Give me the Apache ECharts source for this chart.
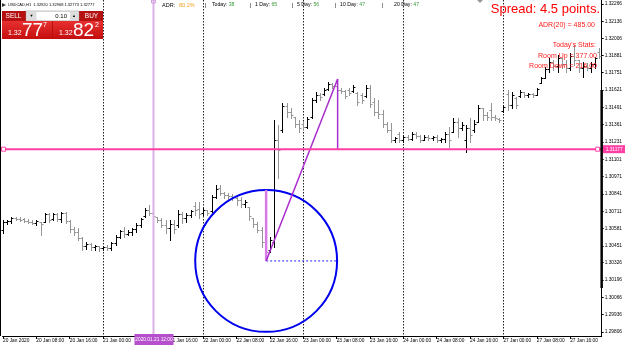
<!DOCTYPE html>
<html><head><meta charset="utf-8">
<script src="https://cdn.jsdelivr.net/npm/echarts@6/dist/echarts.min.js"></script>
<style>html,body{margin:0;padding:0;background:#fff}#c{width:625px;height:348px}</style>
</head><body><div id="c"></div>
<script>
// USDCAD H1 bars, 20 Jan 2020 00:00 .. 27 Jan 2020 23:00 (index = bar number)
const opens = [
1.30571,1.30631,1.30639,1.30661,1.30654,1.30654,1.30639,1.30631,1.30624,1.30631,
1.30631,1.30691,1.30654,1.30691,1.30654,1.30699,1.30639,1.30579,1.30556,1.30511,
1.30451,1.30466,1.30444,1.30451,1.30436,1.30444,1.30436,1.30474,1.30519,1.30564,
1.30541,1.30556,1.30579,1.30609,1.30676,1.30721,1.30699,1.30669,1.30646,1.30609,
1.30586,1.30616,1.30609,1.30691,1.30661,1.30684,1.30751,1.30729,1.30699,1.30721,
1.30714,1.30819,1.30886,1.30849,1.30834,1.30826,1.30811,1.30796,1.30766,1.30744,
1.30661,1.30616,1.30571,1.30481,1.30421,1.30481,1.31246,1.31321,1.31501,1.31456,
1.31419,1.31366,1.31366,1.31344,1.31419,1.31546,1.31584,1.31591,1.31629,1.31666,
1.31651,1.31621,1.31614,1.31621,1.31614,1.31599,1.31584,1.31576,1.31636,1.31531,
1.31456,1.31441,1.31366,1.31321,1.31246,1.31291,1.31246,1.31269,1.31254,1.31291,
1.31276,1.31246,1.31269,1.31261,1.31269,1.31246,1.31254,1.31291,1.31306,1.31381,
1.31336,1.31246,1.31336,1.31321,1.31381,1.31486,1.31434,1.31471,1.31419,1.31404,
1.31464,1.31591,1.31509,1.31561,1.31576,1.31606,1.31584,1.31591,1.31584,1.31674,
1.31711,1.31779,1.31831,1.31801,1.31861,1.31816,1.31786,1.31876,1.31846,1.31786,
1.31801,1.31786,1.31816,1.31906];
const highs = [
1.30646,1.30646,1.30669,1.30669,1.30669,1.30661,1.30654,1.30646,1.30646,1.30631,
1.30699,1.30699,1.30699,1.30699,1.30706,1.30706,1.30646,1.30594,1.30586,1.30519,
1.30481,1.30474,1.30459,1.30451,1.30451,1.30459,1.30481,1.30534,1.30571,1.30594,
1.30571,1.30586,1.30624,1.30661,1.30736,1.30759,1.30706,1.30669,1.30661,1.30646,
1.30646,1.30646,1.30721,1.30706,1.30699,1.30721,1.30781,1.30781,1.30736,1.30721,
1.30834,1.30909,1.30909,1.30856,1.30849,1.30841,1.30819,1.30819,1.30796,1.30744,
1.30661,1.30631,1.30594,1.30496,1.30519,1.31396,1.31359,1.31524,1.31524,1.31486,
1.31419,1.31396,1.31381,1.31419,1.31561,1.31606,1.31599,1.31636,1.31681,1.31674,
1.31704,1.31636,1.31621,1.31636,1.31659,1.31606,1.31599,1.31659,1.31659,1.31561,
1.31546,1.31471,1.31381,1.31374,1.31269,1.31306,1.31284,1.31284,1.31306,1.31306,
1.31284,1.31284,1.31284,1.31276,1.31284,1.31261,1.31306,1.31344,1.31411,1.31411,
1.31381,1.31359,1.31411,1.31396,1.31509,1.31486,1.31456,1.31524,1.31434,1.31411,
1.31509,1.31621,1.31606,1.31569,1.31621,1.31606,1.31599,1.31599,1.31636,1.31719,
1.31794,1.31861,1.31846,1.31884,1.31861,1.31846,1.31899,1.31959,1.31846,1.31831,
1.31824,1.31831,1.31869,1.31936];
const lows = [
1.30549,1.30616,1.30624,1.30646,1.30639,1.30631,1.30624,1.30616,1.30609,1.30534,
1.30631,1.30631,1.30646,1.30639,1.30631,1.30624,1.30556,1.30534,1.30496,1.30421,
1.30429,1.30421,1.30421,1.30414,1.30421,1.30421,1.30421,1.30459,1.30511,1.30519,
1.30534,1.30534,1.30556,1.30594,1.30669,1.30684,1.30669,1.30631,1.30594,1.30549,
1.30496,1.30549,1.30594,1.30624,1.30631,1.30669,1.30684,1.30661,1.30684,1.30684,
1.30706,1.30811,1.30834,1.30811,1.30796,1.30796,1.30759,1.30744,1.30744,1.30646,
1.30594,1.30556,1.30444,1.30346,1.30406,1.30444,1.30961,1.31306,1.31419,1.31411,
1.31344,1.31306,1.31321,1.31336,1.31411,1.31531,1.31546,1.31584,1.31621,1.31636,
1.31606,1.31599,1.31561,1.31584,1.31606,1.31509,1.31524,1.31569,1.31494,1.31434,
1.31411,1.31344,1.31306,1.31231,1.31231,1.31231,1.31231,1.31246,1.31246,1.31261,
1.31231,1.31246,1.31246,1.31246,1.31231,1.31231,1.31231,1.31194,1.31306,1.31269,
1.31321,1.31156,1.31231,1.31306,1.31381,1.31396,1.31396,1.31396,1.31396,1.31381,
1.31456,1.31471,1.31486,1.31486,1.31569,1.31569,1.31569,1.31569,1.31584,1.31674,
1.31711,1.31756,1.31771,1.31756,1.31786,1.31756,1.31771,1.31809,1.31756,1.31719,
1.31771,1.31756,1.31786,1.31861];
const closes = [
1.30631,1.30639,1.30661,1.30654,1.30646,1.30639,1.30631,1.30624,1.30639,1.30616,
1.30691,1.30646,1.30691,1.30654,1.30699,1.30639,1.30579,1.30556,1.30511,1.30451,
1.30466,1.30444,1.30451,1.30436,1.30444,1.30436,1.30474,1.30519,1.30564,1.30541,
1.30556,1.30579,1.30609,1.30654,1.30721,1.30699,1.30676,1.30646,1.30609,1.30586,
1.30616,1.30579,1.30691,1.30661,1.30684,1.30714,1.30721,1.30691,1.30721,1.30699,
1.30819,1.30879,1.30849,1.30834,1.30826,1.30819,1.30796,1.30766,1.30781,1.30676,
1.30616,1.30571,1.30481,1.30406,1.30496,1.31246,1.31171,1.31501,1.31456,1.31434,
1.31366,1.31336,1.31344,1.31404,1.31546,1.31584,1.31569,1.31621,1.31666,1.31651,
1.31621,1.31614,1.31576,1.31599,1.31644,1.31531,1.31546,1.31636,1.31516,1.31456,
1.31441,1.31366,1.31321,1.31246,1.31261,1.31246,1.31269,1.31254,1.31291,1.31276,
1.31246,1.31269,1.31261,1.31269,1.31246,1.31254,1.31291,1.31246,1.31381,1.31336,
1.31359,1.31336,1.31284,1.31366,1.31486,1.31434,1.31419,1.31419,1.31411,1.31396,
1.31494,1.31509,1.31584,1.31509,1.31606,1.31584,1.31591,1.31584,1.31629,1.31711,
1.31779,1.31831,1.31801,1.31861,1.31816,1.31786,1.31876,1.31846,1.31786,1.31801,
1.31786,1.31816,1.31861,1.31876];

const timeTickIndex = [0,8,16,24,32,40,48,56,64,72,80,88,96,104,112,120,128,136];
const timeTickLabels = ['20 Jan 2020','20 Jan 08:00','20 Jan 16:00','21 Jan 00:00','21 Jan 08:00','21 Jan 16:00',
  '22 Jan 00:00','22 Jan 08:00','22 Jan 16:00','23 Jan 00:00','23 Jan 08:00','23 Jan 16:00',
  '24 Jan 00:00','24 Jan 08:00','24 Jan 16:00','27 Jan 00:00','27 Jan 08:00','27 Jan 16:00'];
const priceTicks = [1.32266,1.32136,1.32006,1.31881,1.31751,1.31621,1.31491,1.31361,1.31231,1.31101,
  1.30971,1.30841,1.30711,1.30581,1.30451,1.30326,1.30196,1.30066,1.29936,1.29806];
const separatorIndex = [24,48,72,96,120];
const crossIndex = 36, crossLabel = '2020.01.21 12:00';
const levelPrice = 1.31177;
const circleCenter = [63.1, 1.30339];
const circleTopPrice = 1.30871;
const trendEnd = [80.24, 1.31704];
const rangeBar = [1.31621, 1.30136];
const statNames = ['Today:', '1 Day:', '5 Day:', '10 Day:', '20 Day:'];
const statValues = [38, 65, 56, 47, 47];

const X_MIN = -0.12, X_MAX = 143.55, Y_MIN = 1.29776, Y_MAX = 1.32296;
const FONT = '"Liberation Sans", Arial, sans-serif';

const chart = echarts.init(document.getElementById('c'), null, {renderer:'canvas'});

function T(x, y, text, s) {
  return {type:'text', x:x, y:y, silent:true, z:100,
    style: Object.assign({text:text, fill:'#000', fontSize:5.5, fontFamily:FONT, align:'left', verticalAlign:'middle'}, s||{})};
}
function R(x, y, w, h, s) { return {type:'rect', silent:true, z:99, shape:{x:x,y:y,width:w,height:h}, style:s}; }
const redGrad = {type:'linear', x:0, y:0, x2:0, y2:1, colorStops:[{offset:0,color:'#e83030'},{offset:1,color:'#c40e0e'}]};
const richStat = {n:{fontSize:5.2, fill:'#000', fontFamily:FONT}, g:{fontSize:5.2, fill:'#3a9a3a', fontFamily:FONT}};
const statX = [212, 255, 297, 340, 394];
const barX = [205, 250, 292, 335, 382];

const graphics = [
  {type:'line', silent:true, shape:{x1:0.5,y1:0,x2:0.5,y2:336}, style:{stroke:'#000', lineWidth:1}},
  {type:'polygon', silent:true, shape:{points:[[2,3],[6,5],[2,7]]}, style:{fill:'#333'}},
  T(8, 5, 'USDCAD,H1  1.32920 1.32968 1.32773 1.32777', {fontSize:4}),
  // trade panel
  R(2, 11, 101, 28, {fill:'#b51111'}),
  R(2, 11, 23, 10, {fill:'#b51111'}),
  T(13.5, 16, 'SELL', {fill:'#fff', fontSize:6.5, align:'center'}),
  R(26, 11, 53, 10, {fill:'#eeeeee', stroke:'#888', lineWidth:0.5}),
  R(27, 12, 9, 8, {fill:'#dddddd'}),
  T(31.5, 16, '▼', {fontSize:4, align:'center'}),
  R(37, 12, 33, 8, {fill:'#ffffff'}),
  T(67, 16, '0.10', {fontSize:6, align:'right'}),
  R(70, 12, 8, 8, {fill:'#dddddd'}),
  T(74, 16, '▲', {fontSize:4, align:'center'}),
  R(80, 11, 23, 10, {fill:'#b51111'}),
  T(91.5, 16, 'BUY', {fill:'#fff', fontSize:6.5, align:'center'}),
  R(2, 21, 50, 18, {fill:redGrad}),
  R(53, 21, 50, 18, {fill:redGrad}),
  T(8, 33, '1.32', {fill:'#fff', fontSize:7}),
  T(22, 30.5, '77', {fill:'#fff', fontSize:19}),
  T(43, 25, '7', {fill:'#fff', fontSize:7}),
  T(59, 33, '1.32', {fill:'#fff', fontSize:7}),
  T(73, 30.5, '82', {fill:'#fff', fontSize:19}),
  T(95, 25, '2', {fill:'#fff', fontSize:7}),
  // header stats
  T(162, 5, 'ADR:', {fontSize:5.5}), T(179, 5, '80.2%', {fontSize:5.5, fill:'#f0a020'}),
  {type:'polygon', silent:true, shape:{points:[[477,0],[483,0],[480,3]]}, style:{fill:'#999'}},
  // right stats
  T(600, 9, 'Spread: 4.5 points.', {fill:'#ff0000', fontSize:13, align:'right'}),
  T(595, 25, 'ADR(20) = 485.00', {fill:'#ff1a1a', fontSize:7, align:'right'}),
  T(596, 45, "Today's Stats:", {fill:'#ff1a1a', fontSize:7, align:'right'}),
  T(597, 56, 'Room Up = 377.00', {fill:'#ff1a1a', fontSize:7, align:'right'}),
  T(597, 66, 'Room Down = 216.00', {fill:'#ff1a1a', fontSize:7, align:'right'})
];
statNames.forEach((n, k) => {
  graphics.push(T(barX[k], 5, '|', {fontSize:5.5}));
  graphics.push(T(statX[k], 5, '{n|' + n + ' }{g|' + statValues[k] + '}', {rich:richStat}));
});

const barData = opens.map((o, i) => [i, o, highs[i], lows[i], closes[i]]);

function renderBar(params, api) {
  const i = api.value(0);
  const o = api.coord([i, api.value(1)]);
  const h = api.coord([i, api.value(2)]);
  const l = api.coord([i, api.value(3)]);
  const c = api.coord([i, api.value(4)]);
  const x = Math.round(o[0]) + 0.5;
  const bull = api.value(4) >= api.value(1);
  const st = {stroke: bull ? '#000000' : '#959595', lineWidth: 1};
  const oy = Math.round(o[1]) + 0.5, cy = Math.round(c[1]) + 0.5;
  return {type:'group', children:[
    {type:'line', shape:{x1:x, y1:Math.round(h[1]), x2:x, y2:Math.round(l[1]) + 1}, style:st},
    {type:'line', shape:{x1:x - 2, y1:oy, x2:x, y2:oy}, style:st},
    {type:'line', shape:{x1:x, y1:cy, x2:x + 2, y2:cy}, style:st}
  ]};
}

const option = {
  animation: false,
  backgroundColor: '#ffffff',
  grid: {left:0, top:0, width:602, height:336, show:false},
  xAxis: {
    type:'value', min:X_MIN, max:X_MAX,
    axisLine:{show:true, onZero:false, lineStyle:{color:'#000', width:1}},
    axisTick:{show:true, customValues:timeTickIndex, length:3, lineStyle:{color:'#000'}},
    axisLabel:{show:true, customValues:timeTickIndex, align:'left', margin:2, fontSize:4.8, color:'#000', fontFamily:FONT,
      formatter:(v) => { const k = timeTickIndex.indexOf(Math.round(v)); return k >= 0 ? timeTickLabels[k] : ''; }},
    splitLine:{show:false}
  },
  yAxis: {
    type:'value', position:'right', min:Y_MIN, max:Y_MAX,
    axisLine:{show:true, onZero:false, lineStyle:{color:'#000', width:1}},
    axisTick:{show:true, customValues:priceTicks, length:2, lineStyle:{color:'#000'}},
    axisLabel:{show:true, customValues:priceTicks, margin:3, fontSize:4.8, color:'#000', fontFamily:FONT,
      formatter:(v) => v.toFixed(5)},
    splitLine:{show:false}
  },
  series: [
    { type:'custom', z:1, silent:true, data: separatorIndex.map(v => [v, Y_MIN]),
      renderItem: (p, api) => {
        const x = Math.round(api.coord([api.value(0), Y_MIN])[0]) + 0.5;
        const cs = p.coordSys;
        return {type:'line', shape:{x1:x, y1:cs.y, x2:x, y2:cs.y + cs.height}, style:{stroke:'#222', lineWidth:1, lineDash:[1.5,1.5]}};
      }},
    { type:'custom', z:2, silent:true, data: barData, encode:{x:0, y:[1,2,3,4]}, renderItem: renderBar },
    { type:'custom', z:3, silent:true, data: [[crossIndex, Y_MIN]],
      renderItem: (p, api) => {
        const x = Math.round(api.coord([api.value(0), Y_MIN])[0]) + 0.5;
        const cs = p.coordSys, b = cs.y + cs.height;
        return {type:'group', children:[
          {type:'line', shape:{x1:x, y1:cs.y, x2:x, y2:b}, style:{stroke:'#dcb2ea', lineWidth:2}},
          {type:'rect', shape:{x:x - 2, y:0, width:4, height:3}, style:{fill:'none', stroke:'#c98ad9', lineWidth:0.8}},
          {type:'rect', shape:{x:x - 19, y:b - 2, width:39, height:11}, style:{fill:'#b54fcc'}},
          {type:'text', x:x + 0.5, y:b + 3.5, style:{text:crossLabel, fill:'#fff', fontSize:4.8, fontFamily:FONT, align:'center', verticalAlign:'middle'}}
        ]};
      }},
    { type:'custom', z:4, silent:true, data: [[circleCenter[0], circleCenter[1], circleTopPrice, trendEnd[0], trendEnd[1], levelPrice]],
      renderItem: (p, api) => {
        const c = api.coord([api.value(0), api.value(1)]);
        const t = api.coord([api.value(0), api.value(2)]);
        const e = api.coord([api.value(3), api.value(4)]);
        const lv = api.coord([api.value(3), api.value(5)]);
        const r = c[1] - t[1];
        return {type:'group', children:[
          {type:'circle', shape:{cx:c[0], cy:c[1], r:r}, style:{fill:'none', stroke:'#0000ee', lineWidth:2}},
          {type:'line', shape:{x1:c[0], y1:c[1], x2:c[0] + r, y2:c[1]}, style:{stroke:'#2020ff', lineWidth:1, lineDash:[2,2]}},
          {type:'line', shape:{x1:c[0], y1:c[1], x2:t[0], y2:t[1]}, style:{stroke:'#d77ae6', lineWidth:2.5}},
          {type:'line', shape:{x1:c[0], y1:c[1], x2:e[0], y2:e[1]}, style:{stroke:'#a92ccc', lineWidth:1.5}},
          {type:'line', shape:{x1:e[0], y1:e[1], x2:lv[0], y2:lv[1]}, style:{stroke:'#a92ccc', lineWidth:1.5}}
        ]};
      }},
    { type:'custom', z:5, silent:true, data: [[X_MIN, levelPrice]],
      renderItem: (p, api) => {
        const y = api.coord([X_MIN, api.value(1)])[1];
        const cs = p.coordSys, r = cs.x + cs.width;
        return {type:'group', children:[
          {type:'line', shape:{x1:cs.x, y1:y, x2:r, y2:y}, style:{stroke:'#ff3fa4', lineWidth:2}},
          {type:'rect', shape:{x:1.5, y:y - 2, width:4, height:4}, style:{fill:'#fff', stroke:'#ff3fa4', lineWidth:1}},
          {type:'rect', shape:{x:r - 6, y:y - 2, width:4, height:4}, style:{fill:'#fff', stroke:'#ff3fa4', lineWidth:1}},
          {type:'rect', shape:{x:r + 1, y:y - 4, width:24, height:8}, style:{fill:'#ff3fa4'}},
          {type:'text', x:r + 4, y:y, style:{text:api.value(1).toFixed(5), fill:'#fff', fontSize:4.8, fontFamily:FONT, align:'left', verticalAlign:'middle'}}
        ]};
      }},
    { type:'custom', z:6, silent:true, data: [[X_MAX, rangeBar[0], rangeBar[1]]],
      renderItem: (p, api) => {
        const a = api.coord([X_MAX, api.value(1)]), b = api.coord([X_MAX, api.value(2)]);
        return {type:'line', shape:{x1:a[0], y1:a[1], x2:b[0], y2:b[1]}, style:{stroke:'#000', lineWidth:2.5}};
      }}
  ],
  graphic: graphics
};
chart.setOption(option);
</script>
</body></html>
